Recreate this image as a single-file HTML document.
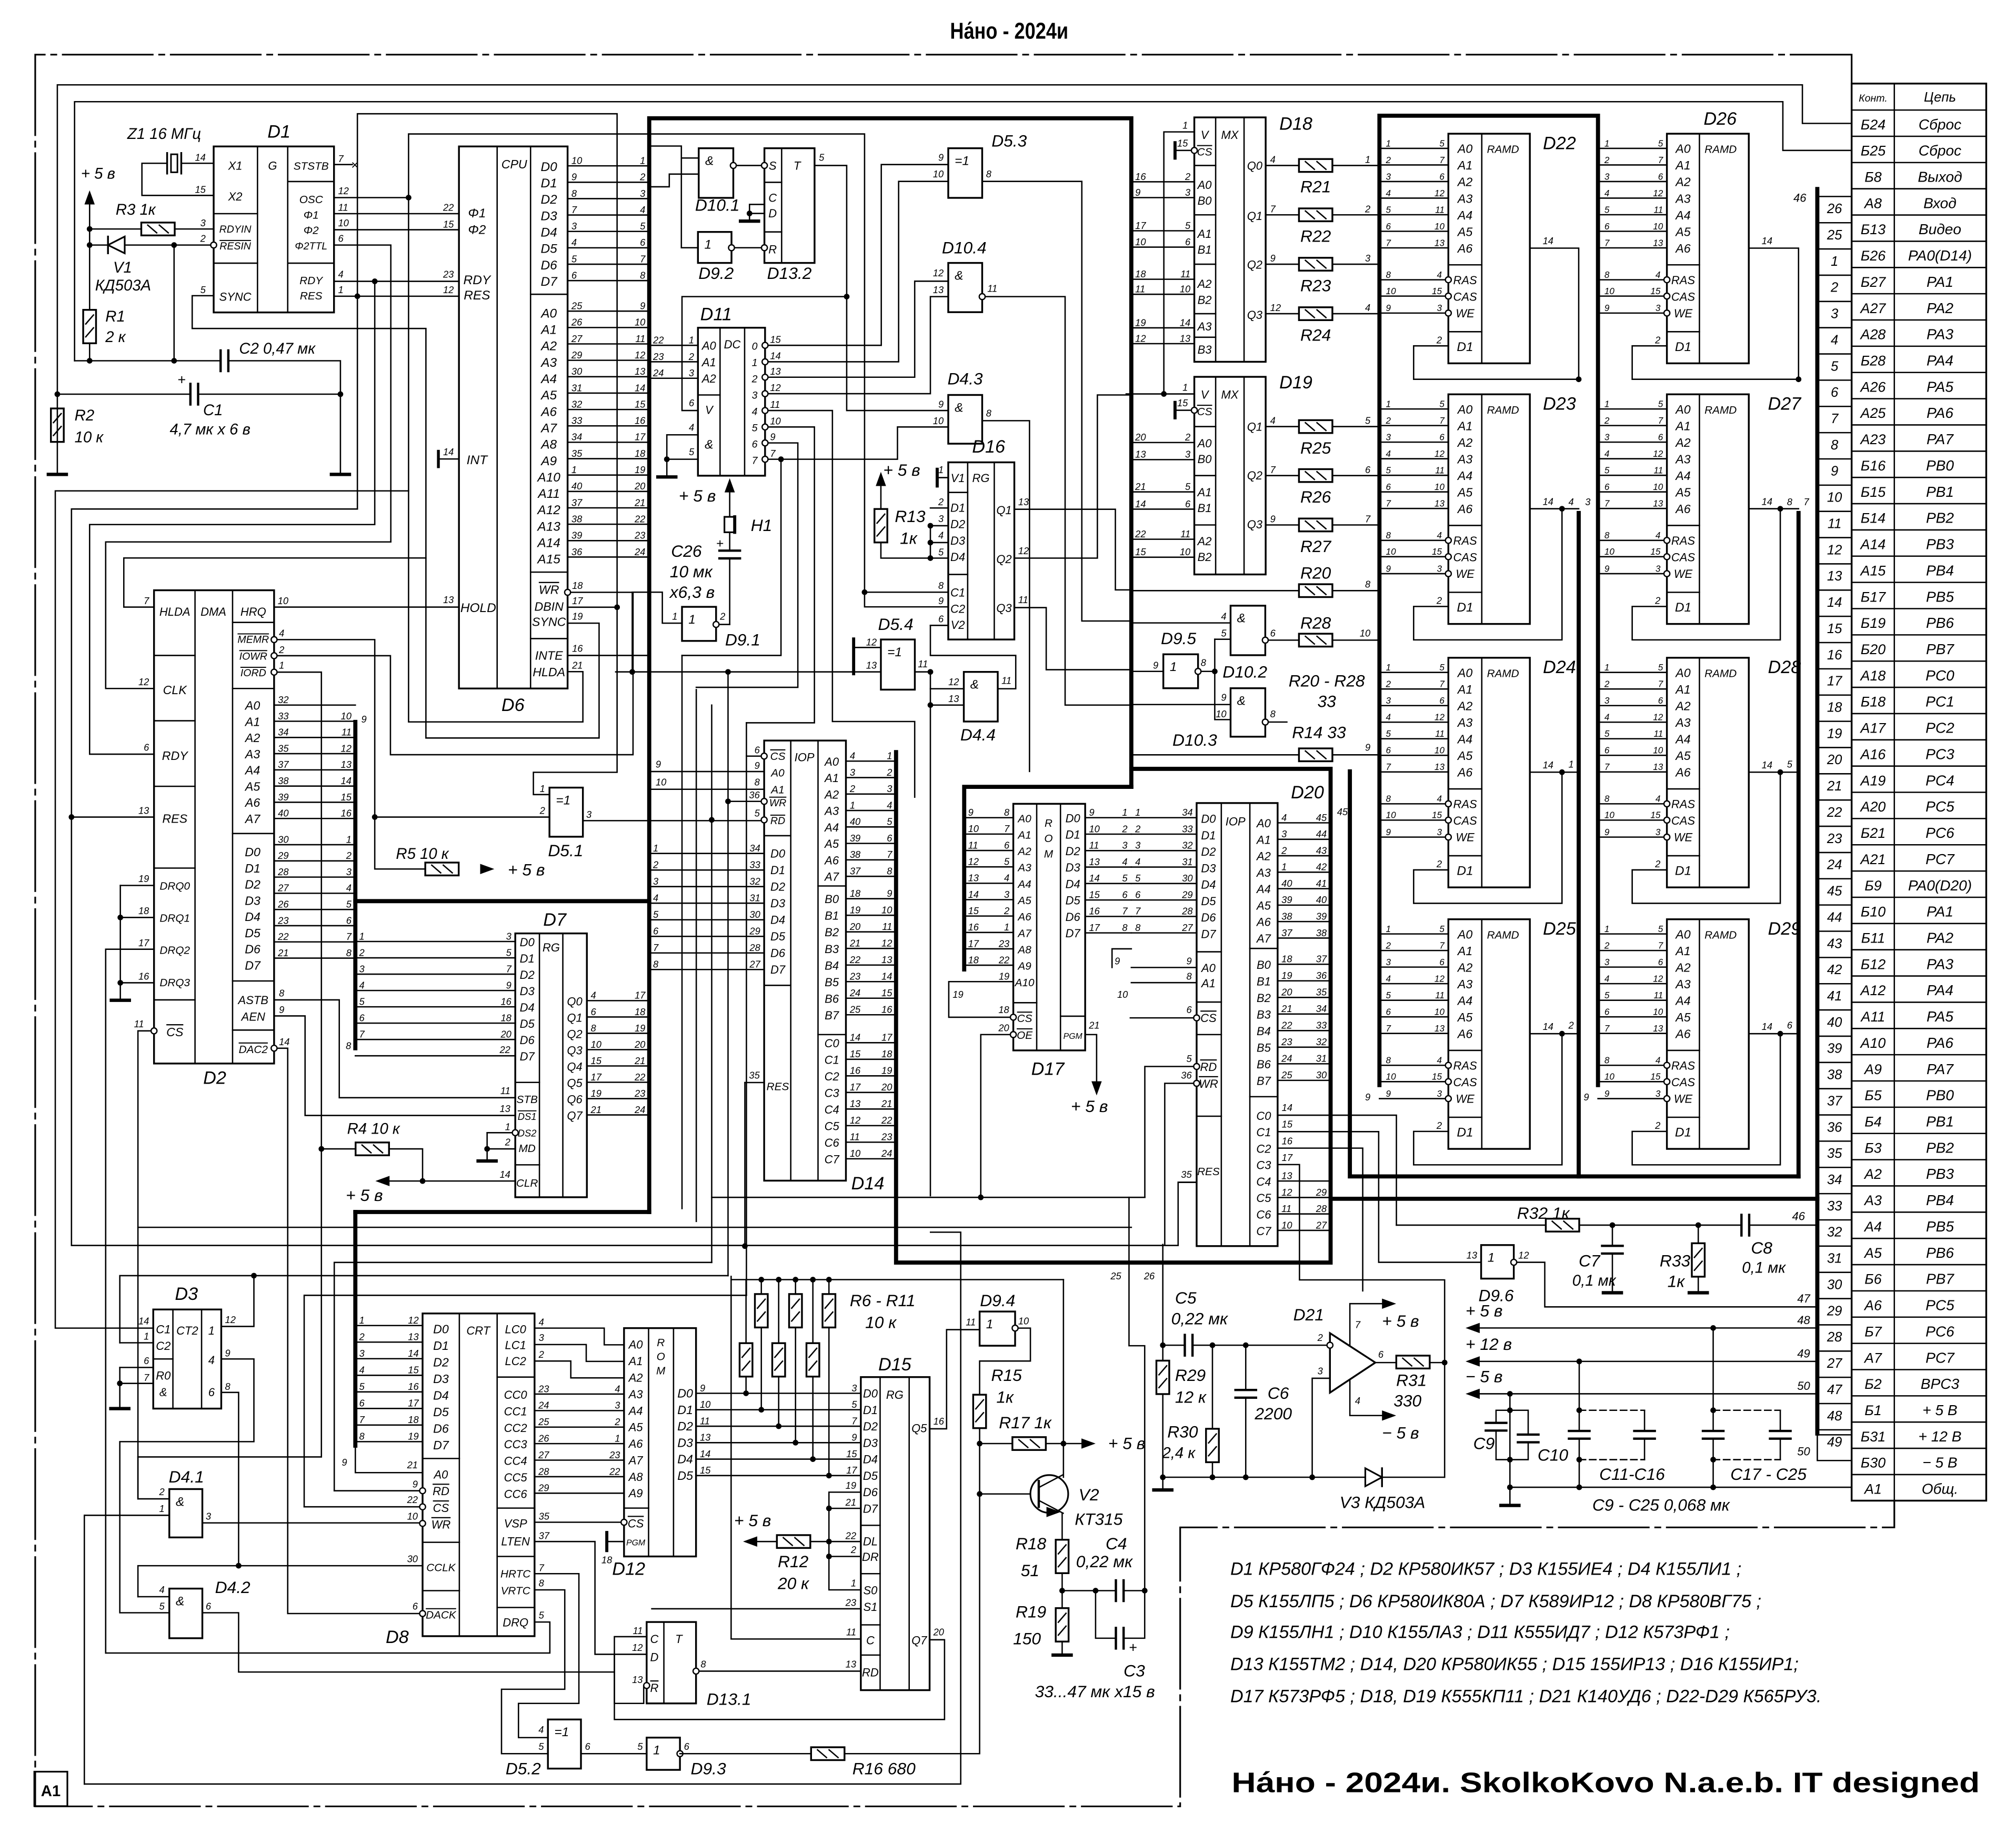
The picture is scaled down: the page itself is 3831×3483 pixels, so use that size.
<!DOCTYPE html>
<html><head><meta charset="utf-8">
<style>
html,body{margin:0;padding:0;background:#fff;width:3831px;height:3483px;overflow:hidden}
svg{display:block}
text{font-family:"Liberation Sans","DejaVu Sans",sans-serif;font-style:italic;fill:#000;stroke:none}
text.b{font-weight:bold;font-style:normal}
text.ov{text-decoration:overline}
</style></head>
<body>
<svg id="s" width="3831" height="3483" viewBox="0 0 1568.15 1425.7" preserveAspectRatio="none" xmlns="http://www.w3.org/2000/svg">
<rect x="0" y="0" width="1568.15" height="1425.7" fill="#fff"/>
<g id="g" stroke="#000" stroke-width="1.05" stroke-linecap="square"></g>
<text x="785" y="30" font-size="18" text-anchor="middle" class="b" textLength="92" lengthAdjust="spacingAndGlyphs">На́но - 2024и</text>
<text x="957" y="1225" font-size="14">D1  КР580ГФ24 ; D2  КР580ИК57 ; D3  К155ИЕ4 ; D4  К155ЛИ1 ;</text>
<text x="957" y="1250" font-size="14">D5  К155ЛП5 ; D6  КР580ИК80А ; D7  К589ИР12 ; D8  КР580ВГ75 ;</text>
<text x="957" y="1274" font-size="14">D9  К155ЛН1 ; D10  К155ЛА3 ; D11  К555ИД7 ; D12  К573РФ1 ;</text>
<text x="957" y="1299" font-size="14">D13  К155ТМ2 ; D14, D20  КР580ИК55 ; D15  155ИР13 ; D16  К155ИР1;</text>
<text x="957" y="1324" font-size="14">D17  К573РФ5 ; D18, D19  К555КП11 ; D21  К140УД6 ; D22-D29  К565РУ3.</text>
<text x="958" y="1394" font-size="22" class="b" textLength="582" lengthAdjust="spacingAndGlyphs">На́но - 2024и. SkolkoKovo N.a.e.b. IT designed</text>
<text x="39.5" y="1397" font-size="12" text-anchor="middle" class="b">A1</text>
</svg>
<script>
let o='';
const ln=(a,b,c,d,w)=>{o+=`<line x1="${a}" y1="${b}" x2="${c}" y2="${d}"${w?` stroke-width="${w}"`:''}/>`;};
const pl=(p,w)=>{o+=`<polyline points="${p}" fill="none"${w?` stroke-width="${w}"`:''}/>`;};
const rc=(x,y,x2,y2)=>{o+=`<rect x="${x}" y="${y}" width="${x2-x}" height="${y2-y}" fill="#fff" stroke-width="1.4"/>`;};
const tx=(x,y,t,s,a,c)=>{o+=`<text x="${x}" y="${y}" font-size="${s||8}"${a?` text-anchor="${a}"`:''}${c?` class="${c}"`:''}>${t}</text>`;};
const dt=(x,y)=>{o+=`<circle cx="${x}" cy="${y}" r="2.2" fill="#000" stroke="none"/>`;};
const oc=(x,y)=>{o+=`<circle cx="${x}" cy="${y}" r="2.3" fill="#fff" stroke-width="1"/>`;};
const rh=(cx,cy)=>{o+=`<rect x="${cx-13}" y="${cy-5}" width="26" height="10" fill="#fff" stroke-width="1.4"/>`;ln(cx-8,cy-3,cx-1,cy+3);ln(cx+1,cy-3,cx+8,cy+3);};
const rv=(cx,cy)=>{o+=`<rect x="${cx-5}" y="${cy-13}" width="10" height="26" fill="#fff" stroke-width="1.4"/>`;ln(cx-3,cy-2,cx+3,cy-9);ln(cx-3,cy+8,cx+3,cy+1);};
const gnd=(x,y)=>ln(x-7,y,x+7,y,2.6);
const ar=(x,y,d)=>{let p;if(d=='l')p=`${x},${y} ${x+11},${y-4} ${x+11},${y+4}`;if(d=='r')p=`${x},${y} ${x-11},${y-4} ${x-11},${y+4}`;if(d=='u')p=`${x},${y} ${x-4},${y+11} ${x+4},${y+11}`;if(d=='d')p=`${x},${y} ${x-4},${y-11} ${x+4},${y-11}`;o+=`<polygon points="${p}" fill="#000" stroke="none"/>`;};
const caph=(x,y)=>{o+=`<rect x="${x-3}" y="${y-1}" width="6" height="2" fill="#fff" stroke="none"/>`;ln(x-3,y-8,x-3,y+8,1.8);ln(x+3,y-8,x+3,y+8,1.8);};
const capv=(x,y)=>{o+=`<rect x="${x-1}" y="${y-3}" width="2" height="6" fill="#fff" stroke="none"/>`;ln(x-8,y-3,x+8,y-3,1.8);ln(x-8,y+3,x+8,y+3,1.8);};
function chip(x1,y1,x2,y2,dv,hl){rc(x1,y1,x2,y2);(dv||[]).forEach(d=>ln(d,y1,d,y2));(hl||[]).forEach(h=>ln(h[1],h[0],h[2],h[0]));}
function labs(x,y0,st,arr,s,a){arr.forEach((t,i)=>{if(t!=='')tx(x,y0+st*i,t,s||9,a||'middle');});}
function pins(x1,x2,y0,st,L,R,s){L.forEach((t,i)=>{const y=y0+st*i;ln(x1,y,x2,y);if(t!=='')tx(x1+3,y-1.5,t,s||7.5);if(R&&R[i]!=='')tx(x2-3,y-1.5,R[i],s||7.5,'end');});}
function gate(x1,y1,x2,y2,sym){rc(x1,y1,x2,y2);tx(x1+5,y1+13,sym,10);}
const seq=(a,b)=>{const r=[];for(let i=a;i<=b;i++)r.push(String(i));return r;};

/* ---------- frame ---------- */
o+='<g stroke-dasharray="70 5 4 5" stroke-width="1.3">';
pl('1440.3,65 1440.3,42.5 27.4,42.5 27.4,1405 918,1405 918,1188 1473.5,1188 1473.5,1167');
o+='</g>';
o+='<rect x="26.7" y="1378" width="25.7" height="26.8" fill="none" stroke-width="1.3"/>';

/* ---------- long top wires ---------- */
pl('44.6,306.6 44.6,66 1402,66 1402,96 1440.3,96');
pl('58,280.6 58,79.1 1386.8,79.1 1386.8,117 1440.3,117');
pl('278,395.9 278,88.5 480,88.5 480,600.7 414.9,600.7 414.9,618 427.4,618');
pl('317.8,434 317.8,104.2 672.5,104.2 672.5,472 737.6,472');
pl('505,113.6 530,113.6 530,192.7 542.9,192.7');
pl('530,122.9 543.5,122.9');
pl('505,145.3 520.6,145.3 520.6,135.4 543.5,135.4');
pl('633.6,128.7 658.6,128.7 658.6,319.3 737.6,319.3');dt(658.6,230.7);
pl('658.6,230.7 530.5,230.7 530.5,319.3 542.9,319.3');

/* ---------- top-left: D1, clock, reset ---------- */
ln(69.7,159,69.7,280.6);ar(69.7,148,'u');tx(63,139,'+ 5 в',12);
ln(69.7,178.1,166.2,178.1);rh(122.9,178.1);tx(90,167,'R3  1к',12);
ln(69.7,190.6,163.9,190.6);o+='<polygon points="84,190.6 97,184 97,197" fill="#fff" stroke-width="1.3"/>';ln(84,184,84,197,1.4);
tx(88,212,'V1',12);tx(74,226,'КД503А',12);
ln(135.4,190.6,135.4,280.6);dt(135.4,190.6);dt(69.7,178.1);dt(69.7,190.6);
rv(69.7,254);tx(82,250,'R1',12);tx(82,266,'2 к',12);
pl('58,280.6 264.8,280.6 264.8,369');caph(174.6,280.6);dt(69.7,280.6);dt(135.4,280.6);
tx(186,275,'C2  0,47 мк',12);
ln(44.6,306.6,264.8,306.6);caph(151.1,306.6);tx(138,299,'+',11);dt(44.6,306.6);dt(264.8,306.6);
tx(158,323,'C1',12);tx(132,338,'4,7 мк х 6 в',12);
rv(44.6,330.7);ln(44.6,306.6,44.6,369);gnd(44.6,369);gnd(264.8,369);
tx(58,327,'R2',12);tx(58,344,'10 к',12);
pl('166.2,127 110.4,127 110.4,152 166.2,152');
o+='<rect x="130" y="119" width="11" height="17" fill="#fff" stroke="none"/>';
ln(130,119,130,135,1.4);ln(141,119,141,135,1.4);o+='<rect x="133" y="120" width="5" height="14" fill="#fff" stroke-width="1.2"/>';
tx(99,108,'Z1 16 МГц',12);
/* D1 */
pl('166.2,230 149.5,230 149.5,255.5 331.3,255.5 331.3,434 96.3,434 96.3,472.2 119.8,472.2');
ln(259.8,128,274,128);tx(273,131.5,'×',10);
ln(259.8,153.7,317.8,153.7);dt(317.8,153.7);
ln(259.8,166.2,357,166.2);ln(259.8,178.7,357,178.7);
pl('259.8,190.6 304,190.6 304,421.5 82.2,421.5 82.2,535.5 119.8,535.5');
ln(259.8,218.8,357,218.8);pl('291.5,218.8 291.5,408 69.7,408 69.7,586.6 119.8,586.6');dt(291.5,218.8);
ln(259.8,230.4,357,230.4);dt(278,230.4);
pl('278,395.9 55.6,395.9 55.6,968.7 916.4,968.7 916.4,919.6 930.8,919.6');dt(55.6,635.5);ln(55.6,635.5,119.8,635.5);
pl('317.8,381.8 43,381.8 43,1033 119.2,1033');
chip(166.2,113.9,259.8,243,[200.3,223.8],[[166.2,166.2,200.3],[204.7,166.2,200.3],[141.2,223.8,259.8],[204.7,223.8,259.8]]);
tx(217,107,'D1',14,'middle');
tx(183,132,'X1',9,'middle');tx(183,156,'X2',9,'middle');tx(212,132,'G',9,'middle');tx(242,132,'STSTB',8.5,'middle');
tx(183,181,'RDYIN',8,'middle');tx(183,194,'RESIN',8,'middle','ov');tx(183,234,'SYNC',9,'middle');
tx(242,158,'OSC',8.5,'middle');tx(242,170,'Φ1',8.5,'middle');tx(242,182,'Φ2',8.5,'middle');tx(242,194,'Φ2TTL',8,'middle');
tx(242,221,'RDY',8.5,'middle');tx(242,233,'RES',8.5,'middle');
oc(166.2,190.6);
tx(160,125,'14',7.5,'end');tx(160,150,'15',7.5,'end');tx(160,176,'3',7.5,'end');tx(160,188,'2',7.5,'end');tx(160,228,'5',7.5,'end');
tx(263,126,'7',7.5);tx(263,151,'12',7.5);tx(263,164,'11',7.5);tx(263,176,'10',7.5);tx(263,188,'6',7.5);tx(263,216,'4',7.5);tx(263,228,'1',7.5);

/* ---------- D6 ---------- */
tx(353,164,'22',7.5,'end');tx(353,177,'15',7.5,'end');tx(353,216,'23',7.5,'end');tx(353,228,'12',7.5,'end');
ln(341,357,357,357);ln(341,351,341,363,2.2);tx(353,354,'14',7.5,'end');
ln(213.2,472.2,357,472.2);tx(353,469,'13',7.5,'end');
pl('441.5,460.7 492.4,460.7 492.4,587 303.7,587 303.7,510 213.2,510');
ln(441.5,472.3,480,472.3);dt(480,472.3);
pl('441.5,484.7 466,484.7 466,574 331.3,574 331.3,434');
ln(441.5,509.8,505,509.8);
pl('441.5,522.4 453.4,522.4 453.4,561.5 317.8,561.5 317.8,434');
chip(357,113.9,441.5,535.5,[386.7,412.7],[[228.9,412.7,441.5],[445,412.7,441.5],[496.7,412.7,441.5]]);
oc(441.5,460.7);
pins(441.5,505,129,12.75,['10','9','8','7','3','4','5','6'],seq(1,8));
pins(441.5,505,242,12.75,['25','26','27','29','30','31','32','33','34','35','1','40','37','38','39','36'],seq(9,24));
labs(427,133,12.75,['D0','D1','D2','D3','D4','D5','D6','D7'],10);
labs(427,247,12.75,['A0','A1','A2','A3','A4','A5','A6','A7','A8','A9','A10','A11','A12','A13','A14','A15'],10);
tx(427,462,'WR',9.5,'middle','ov');tx(427,475,'DBIN',9.5,'middle');tx(427,487,'SYNC',9.5,'middle');
tx(427,513,'INTE',9.5,'middle');tx(427,526,'HLDA',9.5,'middle');
tx(445,458,'18',7.5);tx(445,470,'17',7.5);tx(445,482,'19',7.5);tx(445,507,'16',7.5);tx(445,520,'21',7.5);
tx(400,131,'CPU',9.5,'middle');tx(371,169,'Φ1',10,'middle');tx(371,182,'Φ2',10,'middle');tx(371,221,'RDY',10,'middle');tx(371,233,'RES',10,'middle');
tx(371,361,'INT',10,'middle');tx(372,476,'HOLD',10,'middle');
tx(399,553,'D6',14,'middle');

/* ---------- D2 ---------- */
pl('93.6,688.7 93.6,778');gnd(93.6,778);dt(93.6,713.6);dt(93.6,764.4);
ln(93.6,688.7,119.8,688.7);ln(93.6,713.6,119.8,713.6);ln(93.6,764.4,119.8,764.4);
pl('82.2,1285.7 82.2,738.3 119.8,738.3');
pl('107.3,1165.8 107.3,801.8 117.5,801.8');
pl('213.2,497.5 291.5,497.5 291.5,675.9 330.8,675.9');ln(291.5,635.5,427.4,635.5);dt(291.5,635.5);
rh(343.8,675.9);ar(384.5,675.9,'r');tx(308,668,'R5  10 к',12);tx(395,681,'+ 5 в',13);
pl('213.2,522.8 250,522.8 250,1133.2 107.3,1133.2');
pl('213.2,777.7 263.9,777.7 263.9,853.8 400.8,853.8');
pl('213.2,790.2 237.3,790.2 237.3,867.6 400.8,867.6');
pl('213.2,815.3 223.8,815.3 223.8,1255 326.4,1255');
chip(119.8,459.1,213.2,827.2,[151.7,180.9],[[509.8,119.8,151.7],[560.6,119.8,151.7],[611.6,119.8,151.7],[675.2,119.8,151.7],[777.7,119.8,151.7],[484.1,180.9,213.2],[535.5,180.9,213.2],[648.3,180.9,213.2],[763,180.9,213.2],[801.2,180.9,213.2]]);
oc(119.8,801.8);oc(213.2,497.5);oc(213.2,510);oc(213.2,522.8);oc(213.2,815.3);
tx(136,479,'HLDA',9,'middle');tx(166,479,'DMA',9,'middle');tx(197,479,'HRQ',9,'middle');
tx(136,540,'CLK',9.5,'middle');tx(136,591,'RDY',9.5,'middle');tx(136,640,'RES',9.5,'middle');
labs(136,692,25,['DRQ0','DRQ1','DRQ2','DRQ3'],8.5);tx(136,806,'CS',9.5,'middle','ov');
tx(197,500,'MEMR',8,'middle','ov');tx(197,513,'IOWR',8,'middle','ov');tx(197,526,'IORD',8,'middle','ov');
labs(196.5,552,12.6,['A0','A1','A2','A3','A4','A5','A6','A7'],9.5);
labs(196.5,666,12.6,['D0','D1','D2','D3','D4','D5','D6','D7'],9.5);
tx(197,781,'ASTB',9,'middle');tx(197,794,'AEN',9,'middle');tx(197,819,'DAC2',8.5,'middle','ov');
tx(116,470,'7',7.5,'end');tx(116,533,'12',7.5,'end');tx(116,584,'6',7.5,'end');tx(116,633,'13',7.5,'end');
tx(116,686,'19',7.5,'end');tx(116,711,'18',7.5,'end');tx(116,736,'17',7.5,'end');tx(116,762,'16',7.5,'end');tx(112,799,'11',7.5,'end');
tx(216,470,'10',7.5);tx(217,495,'4',7.5);tx(217,508,'2',7.5);tx(217,520,'1',7.5);tx(217,775,'8',7.5);tx(217,788,'9',7.5);tx(217,813,'14',7.5);
pins(213.2,276.4,548.4,12.6,['32','33','34','35','37','38','39','40'],['','10','11','12','13','14','15','16']);
tx(281,562,'9',7.5);
pins(213.2,276.4,657,12.6,['30','29','28','27','26','23','22','21'],seq(1,8));
tx(167,843,'D2',14,'middle');

/* ---------- D5.1 ---------- */
ln(453.4,638.3,594.4,638.3);
gate(427.4,612.6,453.4,650.8,'=1');tx(424,616,'1',7.5,'end');tx(424,633,'2',7.5,'end');tx(456,636,'3',7.5);
tx(440,666,'D5.1',13,'middle');

/* ---------- D7 ---------- */
pins(276.4,400.8,732.3,12.7,['1','2','3','4','5','6','7'],['3','5','7','9','16','18','20']);
pl('276.4,821.2 400.8,821.2');tx(269,816,'8',7.5);tx(397,819,'22',7.5,'end');
pins(456.5,505,778.3,12.7,['4','6','8','10','15','17','19','21'],seq(17,24));
pl('378.9,881 378.9,903');gnd(378.9,903);ln(378.9,881,398.5,881);ln(378.9,893.6,400.8,893.6);dt(378.9,893.6);
pl('250,893.6 328.7,893.6 328.7,918.6 400.8,918.6');rh(289.6,893.6);dt(250,893.6);
ln(303,918.6,328.7,918.6);ar(292,918.6,'l');dt(328.7,918.6);
tx(270,882,'R4  10 к',12);tx(269,934,'+ 5 в',13);
chip(400.8,726,456.5,931.2,[419.6,437.8],[[841.9,400.8,419.6],[906,400.8,419.6]]);
oc(400.8,881);
labs(410,736,12.7,['D0','D1','D2','D3','D4','D5','D6','D7'],9);
tx(428.7,740,'RG',9,'middle');labs(447,782,12.7,['Q0','Q1','Q2','Q3','Q4','Q5','Q6','Q7'],9);
tx(410,858,'STB',8.5,'middle');tx(410,871,'DS1',7.5,'middle','ov');tx(410,884,'DS2',7.5,'middle');tx(410,896,'MD',8.5,'middle');tx(410,923,'CLR',8.5,'middle');
tx(397,851,'11',7.5,'end');tx(397,865,'13',7.5,'end');tx(397,879,'1',7.5,'end');tx(397,891,'2',7.5,'end');tx(397,916,'14',7.5,'end');
tx(431.5,720,'D7',14,'middle');

/* ---------- left bottom verticals / horizontals ---------- */
pl('107.3,954.6 880,954.6');
pl('260,1159.5 260,981.9 553.6,981.9');
pl('93.2,1044.4 93.2,992.2 566.3,992.2');
pl('236.6,1172 236.6,1007.5 580.6,1007.5');
pl('197.5,992.2 197.5,1031.7 172.1,1031.7');dt(197.5,992.2);
/* middle bus verticals */
pl('491.8,460.6 491.8,522.6');dt(491.8,522.6);
pl('530.5,509.8 530.5,940');pl('541.6,536.4 541.6,950');pl('553.6,548.4 553.6,981.9');pl('566.3,522.6 566.3,992.2');pl('580.6,562.2 580.6,1007.5');
pl('579.4,842 579.4,969.2');dt(579.4,969.2);dt(553.6,637.7);dt(566.3,623.3);dt(566.3,522.6);
ln(566.3,623.3,594.4,623.3);ln(580.6,588.1,594.4,588.1);
ln(505,600.1,594.4,600.1);ln(505,613.9,594.4,613.9);
tx(510,597,'9',7.5);tx(510,611,'10',7.5);

/* ---------- D3 / D4 ---------- */
pl('93.2,1063.6 93.2,1095.6');gnd(93.2,1095.6);ln(93.2,1063.6,119.2,1063.6);ln(93.2,1076,119.2,1076);dt(93.2,1076);
ln(93.2,1044.4,119.2,1044.4);
pl('172.1,1057 197.5,1057 197.5,1121.3 93.2,1121.3 93.2,1254.4 131.7,1254.4');
pl('172.1,1083 185.6,1083 185.6,1217.8');dt(185.6,1217.8);
pl('107.3,1241.9 107.3,1217.8 328.7,1217.8');ln(107.3,1241.9,131.7,1241.9);
pl('107.3,1133.2 107.3,1165.8 131.7,1165.8');
pl('65.6,1387.6 65.6,1178.6 131.7,1178.6');
pl('65.6,1387.6 747.3,1387.6 747.3,958.4 723.8,958.4');
ln(157.4,1184.5,326.4,1184.5);
pl('157.4,1254.4 185.6,1254.4 185.6,1300.5 477.9,1300.5 477.9,1273 503,1273');
chip(119.2,1018.5,172.1,1095.6,[134.5,156.8],[[1057,119.2,134.5]]);
tx(127,1037,'C1',9,'middle');tx(127,1050,'C2',9,'middle');tx(145.7,1038,'CT2',9,'middle');tx(127,1073,'R0',9,'middle');tx(127,1086,'&',9,'middle');
tx(164.5,1038,'1',9,'middle');tx(164.5,1061,'4',9,'middle');tx(164.5,1086,'6',9,'middle');
tx(116,1030,'14',7.5,'end');tx(116,1042,'1',7.5,'end');tx(116,1061,'6',7.5,'end');tx(116,1074,'7',7.5,'end');
tx(175,1029,'12',7.5);tx(175,1055,'9',7.5);tx(175,1081,'8',7.5);
tx(145,1011,'D3',14,'middle');
gate(131.7,1158.2,157.4,1195.8,'&');tx(145,1153,'D4.1',13,'middle');tx(128,1163,'2',7.5,'end');tx(128,1176,'1',7.5,'end');tx(160,1182,'3',7.5);
gate(131.7,1235.6,157.4,1274.2,'&');tx(181,1239,'D4.2',13,'middle');tx(128,1239,'4',7.5,'end');tx(128,1252,'5',7.5,'end');tx(160,1252,'6',7.5);

/* ---------- D8 ---------- */
o+=`<line x1="276.4" y1="942.7" x2="276.4" y2="1124.4" stroke-width="3.2"/>`;
pins(276.4,328.7,1031,12.9,seq(1,8),seq(12,19));
pl('276.4,1124.4 276.4,1145.4 328.7,1145.4');tx(270,1140,'9',7.5,'end');
ln(260,1159.5,326.4,1159.5);ln(236.6,1172,326.4,1172);
pl('415.8,1033 470,1033 470,1046 485.4,1046');pl('415.8,1045.8 456,1045.8 456,1058.9 485.4,1058.9');pl('415.8,1058.6 444,1058.6 444,1071.7 485.4,1071.7');
pins(415.8,485.4,1084.3,12.85,['23','24','25','26','27','28','29'],['4','3','2','1','23','22','']);
ln(415.8,1184,483,1184);
pl('415.8,1199 462.8,1199 462.8,1286.7 503,1286.7');
ln(472,1192,472,1206,2.4);ln(472,1199,485.4,1199);tx(472,1216,'18',7.5,'middle');
pl('415.8,1224 450.3,1224 450.3,1324.9 403.3,1324.9 403.3,1351.5 426.2,1351.5');
pl('415.8,1236.6 439.3,1236.6 439.3,1313.9 390.1,1313.9 390.1,1364 426.2,1364');
pl('415.8,1261.6 427.7,1261.6 427.7,1285.7 82.2,1285.7');
chip(328.7,1021.6,415.8,1272.6,[357.3,386.7],[[1134.4,328.7,357.3],[1199.6,328.7,357.3],[1237.2,328.7,357.3],[1071.1,386.7,415.8],[1173,386.7,415.8],[1210.6,386.7,415.8],[1250.3,386.7,415.8]]);
oc(328.7,1159.5);oc(328.7,1172);oc(328.7,1184.9);oc(328.7,1255);
labs(343,1037,12.9,['D0','D1','D2','D3','D4','D5','D6','D7'],9.5);
tx(372,1038,'CRT',9,'middle');labs(401,1037,12.4,['LC0','LC1','LC2'],9);
labs(401,1088,12.85,['CC0','CC1','CC2','CC3','CC4','CC5','CC6'],9);
tx(343,1150,'A0',9,'middle');tx(343,1163,'RD',9,'middle','ov');tx(343,1176,'CS',9,'middle','ov');tx(343,1189,'WR',9,'middle','ov');
tx(343,1222,'CCLK',8.5,'middle');tx(343,1259,'DACK',8.5,'middle','ov');
tx(401,1188,'VSP',9,'middle');tx(401,1202,'LTEN',9,'middle');tx(401,1227,'HRTC',8.5,'middle');tx(401,1240,'VRTC',8.5,'middle');tx(401,1265,'DRQ',9,'middle');
tx(325,1142,'21',7.5,'end');tx(325,1157,'9',7.5,'end');tx(325,1169,'22',7.5,'end');tx(325,1182,'10',7.5,'end');tx(325,1215,'30',7.5,'end');tx(325,1252,'6',7.5,'end');
tx(419,1031,'4',7.5);tx(419,1043,'3',7.5);tx(419,1056,'2',7.5);tx(419,1182,'35',7.5);tx(419,1197,'37',7.5);tx(419,1222,'7',7.5);tx(419,1234,'8',7.5);tx(419,1259,'5',7.5);
tx(309,1278,'D8',14,'middle');

/* ---------- D12 ---------- */
chip(485.4,1033,541.4,1210.6,[504.5,523.9],[[1173,485.4,504.5]]);
oc(485.4,1184);
labs(494.5,1049,12.85,['A0','A1','A2','A3','A4','A5','A6','A7','A8','A9'],9);
tx(494.5,1188,'CS',9,'middle','ov');tx(494.5,1202,'PGM',6.5,'middle');
tx(514,1047,'R',8.5,'middle');tx(514,1058,'O',8.5,'middle');tx(514,1069,'M',8.5,'middle');
labs(533,1087,12.8,['D0','D1','D2','D3','D4','D5'],9.5);
tx(489,1225,'D12',14,'middle');
pins(541.4,669.6,1083.7,12.8,['9','10','11','13','14','15'],['3','5','7','9','15','17']);

/* ---------- R6-R11 ---------- */
ln(568.7,995.3,827.2,995.3);
[[580.3,1083.7,1057.7],[592.2,1096.5,1019.5],[605.7,1109.3,1057.7],[618.8,1122.1,1019.5],[632.3,1134.9,1057.7],[644.8,1147.7,1019.5]].forEach(r=>{ln(r[0],995.3,r[0],r[1]);rv(r[0],r[2]);dt(r[0],r[1]);if(r[0]>585)dt(r[0],995.3);});
tx(661,1016,'R6 - R11',13);tx(673,1033,'10 к',13);

/* ---------- D15 ---------- */
pl('669.6,1160.6 644.8,1160.6 644.8,1236.6 669.6,1236.6');ln(644.8,1173.2,669.6,1173.2);ln(644.8,1199,669.6,1199);ln(644.8,1210.6,669.6,1210.6);
dt(644.8,1173.2);dt(644.8,1199);dt(644.8,1210.6);
ln(589,1199,644.8,1199);rh(617.3,1199);ar(578,1199,'l');tx(571,1187,'+ 5 в',13);tx(605,1219,'R12',13);tx(605,1236,'20 к',13);
ln(507,1251.3,669.6,1251.3);
pl('568.7,992.8 568.7,1274.8 669.6,1274.8');
pl('541.4,1299.8 669.6,1299.8');
pl('723.1,1111.3 736.3,1111.3 736.3,1034.2 762,1034.2');
pl('723.1,1275.4 734.7,1275.4 734.7,1337.4 477.9,1337.4 477.9,1300.5');
chip(669.6,1071.1,723.1,1314.6,[684.6,707.2],[[1186.4,669.6,684.6],[1224,669.6,684.6],[1263.8,669.6,684.6],[1287.3,669.6,684.6]]);
labs(677,1087,12.8,['D0','D1','D2','D3','D4','D5','D6','D7'],9);
tx(696,1088,'RG',9,'middle');tx(677,1202,'DL',9,'middle');tx(677,1214,'DR',9,'middle');tx(677,1240,'S0',9,'middle');tx(677,1253,'S1',9,'middle');
tx(677,1279,'C',9,'middle');tx(677,1304,'RD',9,'middle');tx(715,1114,'Q5',9,'middle');tx(715,1279,'Q7',9,'middle');
tx(666,1158,'19',7.5,'end');tx(666,1171,'21',7.5,'end');tx(666,1197,'22',7.5,'end');tx(666,1208,'2',7.5,'end');tx(666,1234,'1',7.5,'end');tx(666,1249,'23',7.5,'end');tx(666,1272,'11',7.5,'end');tx(666,1297,'13',7.5,'end');
tx(726,1108,'16',7.5);tx(726,1272,'20',7.5);
tx(696,1066,'D15',14,'middle');

/* ---------- D13.1, D5.2, D9.3 ---------- */
chip(503,1261.6,541.4,1324.9,[516.4],[]);
tx(509,1278,'C',9,'middle');tx(509,1292,'D',9,'middle');tx(509,1316,'R',9,'middle','ov');tx(528,1278,'T',9,'middle');
oc(541.4,1299.8);oc(503,1311);
tx(500,1271,'11',7.5,'end');tx(500,1284,'12',7.5,'end');tx(500,1309,'13',7.5,'end');tx(545,1297,'8',7.5);
pl('477.9,1286.7 477.9,1324.9 500.7,1324.9 500.7,1311');
tx(567,1326,'D13.1',13,'middle');
gate(426.2,1337.4,451.9,1375.6,'=1');tx(423,1348,'4',7.5,'end');tx(423,1361,'5',7.5,'end');tx(455,1361,'6',7.5);tx(407,1380,'D5.2',13,'middle');
ln(451.9,1364,503,1364);
gate(503,1351.5,528.9,1376.6,'1');oc(528.9,1364);tx(500,1361,'5',7.5,'end');tx(532,1361,'6',7.5);tx(551,1380,'D9.3',13,'middle');
pl('528.9,1364 762,1364 762,1122.8');rh(643.9,1364);tx(663,1380,'R16  680',13);

/* ---------- D9.4, V2 ---------- */
pl('789.6,1033 801.5,1033 801.5,1058.6 762,1058.6 762,1122.8');
gate(762,1020.1,789.6,1046.7,'1');oc(789.6,1033);tx(759,1031,'11',7.5,'end');tx(792,1030,'10',7.5);tx(776,1016,'D9.4',13,'middle');
rv(762,1097.8);tx(771,1074,'R15',13);tx(775,1091,'1к',13);
ln(762,1122.8,842,1122.8);rh(800.5,1122.8);ar(852.2,1122.8,'r');dt(762,1122.8);dt(827.2,1122.8);tx(777,1111,'R17  1к',13);tx(862,1127,'+ 5 в',13);
ln(827.2,995.3,827.2,1149);
ln(762,1162,808,1162);dt(762,1162);
o+='<circle cx="816.2" cy="1162" r="14.7" fill="#fff" stroke-width="1.3"/>';ln(808,1152,808,1172,1.8);ln(808,1157,827,1147);ln(808,1167,827,1177);ar(825,1176,'r');
tx(839,1167,'V2',13);tx(836,1186,'КТ315',13);
ln(826.2,1177,826.2,1287.3);rv(826.2,1210.6);rv(826.2,1263.8);gnd(826.2,1287.3);dt(826.2,1237.2);
pl('826.2,1237.2 890.4,1237.2');caph(871,1237.2);dt(852.2,1237.2);dt(890.4,1237.2);
pl('852.2,1237.2 852.2,1274.2 890.4,1274.2 890.4,1046.7 878.2,1046.7 878.2,982');caph(871,1274.2);tx(878,1285,'+',11);
tx(790,1205,'R18',13);tx(794,1226,'51',13);tx(860,1205,'C4',13);tx(837,1219,'0,22 мк',13);tx(790,1258,'R19',13);tx(788,1279,'150',13);
tx(874,1304,'C3',13);tx(805,1320,'33...47 мк х15 в',13);

/* ---------- middle top: D10.1, D13.2, D9.2, D5.3, D10.4, D11 ---------- */
ln(570.4,128.7,594.6,128.7);ln(569,192.7,594.6,192.7);
pl('594.6,159 583,159 583,172');pl('583,166 594.6,166');dt(583,166);gnd(583,172);
gate(543.5,115.3,570.4,153.9,'&');oc(570.4,128.7);tx(558,164,'D10.1',13,'middle');
chip(594.6,115.3,633.6,204.5,[608],[[141.8,594.6,608],[180.4,594.6,608]]);oc(594.6,128.7);oc(594.6,192.7);
tx(601,132,'S',9,'middle');tx(601,157,'C',9,'middle');tx(601,169,'D',9,'middle');tx(601,197,'R',9,'middle');tx(620,132,'T',9,'middle');tx(637,125,'5',7.5);
tx(614,217,'D13.2',13,'middle');
gate(542.9,180.4,569,204.5,'1');oc(569,192.7);tx(557,217,'D9.2',13,'middle');
pl('595.1,268.6 685.5,268.6 685.5,128 737.6,128');
pl('595.1,281.4 699,281.4 699,141.1 737.6,141.1');
pl('595.1,293.4 711.5,293.4 711.5,218.7 737.6,218.7');
pl('595.1,306.2 723.7,306.2 723.7,230.7 737.6,230.7');
pl('595.1,319.3 647.5,319.3 647.5,561.2 711.5,561.2 711.5,620');
pl('595.1,332.1 633.5,332.1 633.5,562.2 580.6,562.2');
pl('595.1,344.5 620.6,344.5 620.6,534.6 541.6,534.6');
pl('595.1,357.2 607.5,357.2 607.5,509.8 530.5,509.8');dt(607.5,357.2);
pl('607.5,357.2 698.1,357.2 698.1,332.1 737.6,332.1');
pl('764,141.1 841.5,141.1 841.5,483 880,483');
pl('764,230.7 828.5,230.7 828.5,548.4 880,548.4');
pins(505,542.9,268.6,12.8,['22','23','24'],['1','2','3']);
pl('518.7,338.2 542.9,338.2');pl('518.7,338.2 518.7,371');gnd(518.7,371);ln(518.7,357.2,542.9,357.2);dt(518.7,357.2);
chip(542.9,254.9,595.1,370,[560.1,579.2],[[307.2,542.9,560.1]]);
labs(551.5,272,12.8,['A0','A1','A2'],9);tx(551.5,322,'V',9,'middle');tx(551.5,349,'&',10,'middle');tx(569.6,271,'DC',9,'middle');
labs(587,272,12.7,['0','1','2','3','4','5','6','7'],8);
[268.6,281.4,293.4,306.2,319.3,332.1,344.5,357.2].forEach((y,i)=>{oc(595.1,y);tx(599,y-2,['15','14','13','12','11','10','9','7'][i],7.5);});
tx(540,316,'6',7.5,'end');tx(540,335,'4',7.5,'end');tx(540,354,'5',7.5,'end');
tx(557,249,'D11',14,'middle');
gate(737.6,115.3,764,153.9,'=1');tx(734,125,'9',7.5,'end');tx(734,138,'10',7.5,'end');tx(767,138,'8',7.5);tx(785,114,'D5.3',13,'middle');
gate(737.6,204.5,764,242.8,'&');oc(764,230.7);tx(734,215,'12',7.5,'end');tx(734,228,'13',7.5,'end');tx(768,227,'11',7.5);tx(750,197,'D10.4',13,'middle');
/* H1, C26, D9.1 */
ln(567.6,382,567.6,402);ar(567.6,372,'u');tx(528,390,'+ 5 в',13);
o+='<rect x="563.5" y="402" width="8" height="12" fill="#fff" stroke-width="1.3"/>';ln(571.5,402,571.5,414,2.4);tx(584,413,'H1',13);
ln(567.6,414,567.6,485.7);capv(567.6,431.3);tx(557,426,'+',10);
tx(522,433,'C26',13);tx(521,449,'10 мк',13);tx(521,465,'x6,3 в',13);
pl('491.8,460.6 515.2,460.6 515.2,484.7 530.5,484.7');
ln(557,485.7,567.6,485.7);
gate(530.5,472,557,498.5,'1');oc(557,485.7);tx(527,482,'1',7.5,'end');tx(560,482,'2',7.5);tx(564,502,'D9.1',13);
ln(478.9,522.6,685.2,522.6);

/* ---------- D4.3, D16, R13, D5.4, D4.4 ---------- */
pl('764,327.2 800.8,327.2 800.8,600');
gate(737.6,307.2,764,345.1,'&');tx(734,317,'9',7.5,'end');tx(734,330,'10',7.5,'end');tx(767,324,'8',7.5);tx(737,299,'D4.3',13);
ln(729,371.5,737.6,371.5);ln(729,365,729,378,2.4);
pl('685.2,378 685.2,434.1 737.6,434.1');ar(685.2,367,'u');rv(685.2,408.9);tx(687,370,'+ 5 в',13);tx(696,406,'R13',13);tx(700,423,'1к',13);
ln(723.7,395.1,737.6,395.1);ln(723.7,408.9,737.6,408.9);ln(723.7,422,737.6,422);ln(723.7,408.9,723.7,434.1);dt(723.7,408.9);dt(723.7,422);dt(723.7,434.1);
ln(672.5,460.6,737.6,460.6);dt(672.5,460.6);
pl('723.7,486.4 737.6,486.4');pl('723.7,486.4 723.7,509.8 790.1,509.8 790.1,535.7');
pl('789,396.1 867.6,396.1 867.6,458.8 880,458.8');
pl('789,434.1 853.6,434.1 853.6,307.2 880,307.2');
pl('789,472.6 813.8,472.6 813.8,520.9 880,520.9');
chip(737.6,359.6,789,497.4,[752.7,773.4],[[383,737.6,752.7],[446.8,737.6,752.7]]);
tx(745,375,'V1',9,'middle');tx(763,375,'RG',9,'middle');labs(745,398,12.8,['D1','D2','D3','D4'],9);
labs(745,464,12.6,['C1','C2','V2'],9);tx(781,400,'Q1',9,'middle');tx(781,438,'Q2',9,'middle');tx(781,476,'Q3',9,'middle');
tx(734,368,'1',7.5,'end');tx(734,393,'2',7.5,'end');tx(734,406,'3',7.5,'end');tx(734,419,'4',7.5,'end');tx(734,432,'5',7.5,'end');tx(734,458,'8',7.5,'end');tx(734,470,'9',7.5,'end');tx(734,484,'6',7.5,'end');
tx(792,393,'13',7.5);tx(792,431,'12',7.5);tx(792,469,'11',7.5);
tx(769,352,'D16',14,'middle');
ln(664,503.6,685.2,503.6);ln(664,497,664,524,2.4);
gate(685.2,497.4,711.6,536.4,'=1');tx(682,502,'12',7.5,'end');tx(682,520,'13',7.5,'end');tx(714,519,'11',7.5);tx(683,490,'D5.4',13);
ln(711.6,522.6,723.7,522.6);dt(723.7,522.6);ln(723.7,535.7,749.7,535.7);ln(723.7,548.4,749.7,548.4);pl('723.7,522.6 723.7,930');dt(723.7,548.4);
ln(776.1,535.7,790.1,535.7);
gate(749.7,522.6,776.1,561.2,'&');tx(746,533,'12',7.5,'end');tx(746,546,'13',7.5,'end');tx(779,532,'11',7.5);tx(747,576,'D4.4',13);

/* ---------- D14 ---------- */
chip(594.4,576,658,918.3,[615.1,636.3],[[650,594.4,615.1],[766.4,594.4,615.1],[689.1,636.3,658],[804.7,636.3,658]]);
oc(594.4,588.1);oc(594.4,623.3);oc(594.4,637.7);
tx(605,591,'CS',8.5,'middle','ov');tx(605,604,'A0',8.5,'middle');tx(605,617,'A1',8.5,'middle');tx(605,627,'WR',8,'middle','ov');tx(605,641,'RD',8,'middle','ov');
tx(625.7,592,'IOP',9,'middle');
pins(505,594.4,663.8,12.9,seq(1,8),['34','33','32','31','30','29','28','27']);
labs(605,667,12.9,['D0','D1','D2','D3','D4','D5','D6','D7'],9);
ln(579.4,842,594.4,842);tx(605,848,'RES',8.5,'middle');tx(591,839,'35',7.5,'end');
tx(591,586,'6',7.5,'end');tx(591,598,'9',7.5,'end');tx(591,611,'8',7.5,'end');tx(591,621,'36',7.5,'end');tx(591,635,'5',7.5,'end');
pins(658,697,592,12.8,['4','3','2','1','40','39','38','37'],seq(1,8));
labs(647,595.5,12.8,['A0','A1','A2','A3','A4','A5','A6','A7'],9);
pins(658,697,699,12.9,seq(18,25),seq(9,16));
labs(647,702.5,12.9,['B0','B1','B2','B3','B4','B5','B6','B7'],9);
pins(658,697,811,12.9,['14','15','16','17','13','12','11','10'],seq(17,24));
labs(647,814.5,12.9,['C0','C1','C2','C3','C4','C5','C6','C7'],9);
tx(675,925,'D14',14,'middle');

/* ---------- D17 ---------- */
pins(750,788.2,636,12.75,['9','10','11','12','13','14','15','16','17','18',''],['8','7','6','5','4','3','2','1','23','22','19']);
pl('750,763.5 738,763.5 738,791.2 785.9,791.2');tx(741,776,'19',7.5);
pl('762.9,931.3 762.9,804.7 785.9,804.7');dt(762.9,931.3);
ln(553.6,931.3,890.5,931.3);
pl('844.1,804.7 853,804.7 853,842');ar(853,852,'d');tx(833,865,'+ 5 в',13);
pins(844.1,880,636,12.8,['9','10','11','13','14','15','16','17'],seq(1,8));
pl('880,738 865,738 865,752.5');tx(867,750,'9',7.5);
chip(788.2,625.2,844.1,817,[806.4,824.9],[[779.9,788.2,806.4],[790.4,824.9,844.1]]);
oc(788.2,791.2);oc(788.2,804.7);
labs(797,639.5,12.75,['A0','A1','A2','A3','A4','A5','A6','A7','A8','A9','A10'],8.5);
tx(815.6,643,'R',8.5,'middle');tx(815.6,655,'O',8.5,'middle');tx(815.6,667,'M',8.5,'middle');
labs(834.5,639.5,12.8,['D0','D1','D2','D3','D4','D5','D6','D7'],9);
tx(797,795,'CS',8.5,'middle','ov');tx(797,808,'OE',8.5,'middle','ov');tx(834.5,808,'PGM',6.5,'middle');
tx(785,788,'18',7.5,'end');tx(785,802,'20',7.5,'end');tx(847,800,'21',7.5);
tx(815,836,'D17',14,'middle');

/* ---------- D20 ---------- */
pins(880,930.8,636,12.8,seq(1,8),['34','33','32','31','30','29','28','27']);
ln(880,752.5,930.8,752.5);ln(880,764.3,930.8,764.3);tx(927,750,'9',7.5,'end');tx(927,762,'8',7.5,'end');tx(869,776,'10',7.5);
ln(879.2,791.7,928.5,791.7);tx(927,788,'6',7.5,'end');
pl('890.5,931.3 890.5,829.5 928.5,829.5');tx(927,826,'5',7.5,'end');
pl('906,967.9 906,842.6 928.5,842.6');tx(927,839,'36',7.5,'end');
ln(916.4,919.6,930.8,919.6);tx(927,916,'35',7.5,'end');
pins(993.8,1035,640,12.8,['4','3','2','1','40','39','38','37'],['45','44','43','42','41','40','39','38']);
pins(993.8,1035,750,12.9,seq(18,25),['37','36','35','34','33','32','31','30']);
pl('993.8,867.4 1086.2,867.4 1086.2,952.9');tx(997,864,'14',7.5);
pl('993.8,880.2 1072.4,880.2 1072.4,981.8 1152.1,981.8');tx(997,877,'15',7.5);
pl('993.8,893 1060,893 1060,1004');tx(997,890,'16',7.5);
pl('993.8,905.8 1010.8,905.8 1010.8,995.5 1123.7,995.5 1123.7,1149');tx(997,903,'17',7.5);
pins(993.8,1035,918.6,12.8,['13','12','11','10'],['','29','28','27']);
chip(930.8,624.6,993.8,969.2,[950,972.2],[[740.3,930.8,950],[779.4,930.8,950],[804.7,930.8,950],[868.2,930.8,950],[737.7,972.2,993.8],[853,972.2,993.8]]);
oc(930.8,791.7);oc(930.8,829.5);oc(930.8,842.6);
labs(940,640,12.8,['D0','D1','D2','D3','D4','D5','D6','D7'],9);
tx(940,756,'A0',9,'middle');tx(940,768,'A1',9,'middle');tx(940,795,'CS',9,'middle','ov');tx(940,833,'RD',9,'middle','ov');tx(940,846,'WR',9,'middle','ov');tx(940,914,'RES',8.5,'middle');
tx(961,642,'IOP',9,'middle');
labs(983,643.5,12.8,['A0','A1','A2','A3','A4','A5','A6','A7'],9);
labs(983,753.5,12.9,['B0','B1','B2','B3','B4','B5','B6','B7'],9);
labs(983,871,12.8,['C0','C1','C2','C3','C4','C5','C6','C7'],9);
tx(1017,621,'D20',14,'middle');tx(1040,634,'45',7.5);
tx(868,995,'25',7.5,'middle');tx(894,995,'26',7.5,'middle');
ln(878.2,931.3,878.2,982);

/* ---------- D18 / D19 ---------- */
pl('905.3,306.4 905.3,102.6 929,102.6');ln(876,306.4,929,306.4);dt(905.3,306.4);
ln(914,111,914,123,2.4);ln(914,117,926.7,117);ln(914,313,914,325,2.4);ln(914,319.1,926.7,319.1);
pins(880,929,141.4,12.3,['16','9'],['2','3']);
pins(880,929,179.5,12.7,['17','10'],['5','6']);
pins(880,929,217.2,11.7,['18','11'],['11','10']);
pins(880,929,255,12.3,['19','12'],['14','13']);
pins(880,929,344.2,13.3,['20','13'],['2','3']);
pins(880,929,382.6,13.4,['21','14'],['5','6']);
pins(880,929,419.4,14,['22','15'],['11','10']);
[[128.7,'4','1','R21'],[167.1,'7','2','R22'],[205.5,'9','3','R23'],[244,'12','4','R24'],[331.8,'4','5','R25'],[369.9,'7','6','R26'],[408.3,'9','7','R27']].forEach(r=>{ln(984.5,r[0],1073,r[0]);rh(1023.4,r[0]);tx(988,r[0]-2,r[1],7.5);tx(1066,r[0]-2,r[2],7.5,'end');tx(1023.4,r[0]+21,r[3],13,'middle');});
ln(880,459.4,1073,459.4);rh(1023.4,459.4);tx(1023.4,450,'R20',13,'middle');tx(1066,457,'8',7.5,'end');
ln(984.2,497.9,1073,497.9);rh(1023.4,497.9);tx(1023.4,489,'R28',13,'middle');tx(1066,495,'10',7.5,'end');
ln(880,587.1,1073,587.1);rh(1023.4,587.1);tx(1005,574,'R14  33',13);tx(1066,584,'9',7.5,'end');
chip(929,91.3,984.5,281.4,[945.6,967.7],[[128.7,929,945.6],[167.1,929,945.6],[205.5,929,945.6],[244,929,945.6],[262.3,929,945.6]]);
oc(929,117);
tx(937,108,'V',9,'middle');tx(937,121,'CS',8.5,'middle','ov');tx(956.6,108,'MX',9,'middle');
labs(937,147,12.3,['A0','B0'],9);labs(937,185,12.3,['A1','B1'],9);labs(937,224,12.3,['A2','B2'],9);tx(937,257,'A3',9,'middle');tx(937,275,'B3',9,'middle');
tx(976,132,'Q0',9,'middle');tx(976,171,'Q1',9,'middle');tx(976,209,'Q2',9,'middle');tx(976,248,'Q3',9,'middle');
tx(924,100,'1',7.5,'end');tx(924,114,'15',7.5,'end');
tx(1008,101,'D18',14,'middle');
chip(929,293.1,984.5,446.8,[945.6,967.7],[[331.8,929,945.6],[369.9,929,945.6],[408.3,929,945.6]]);
oc(929,319.1);
tx(937,310,'V',9,'middle');tx(937,323,'CS',8.5,'middle','ov');tx(956.6,310,'MX',9,'middle');
labs(937,348,12.3,['A0','B0'],9);labs(937,386,12.3,['A1','B1'],9);labs(937,424,12.3,['A2','B2'],9);
tx(976,335,'Q1',9,'middle');tx(976,373,'Q2',9,'middle');tx(976,411,'Q3',9,'middle');
tx(924,304,'1',7.5,'end');tx(924,316,'15',7.5,'end');
tx(1008,302,'D19',14,'middle');
/* D10.2 D9.5 D10.3 */
ln(880,484.5,957.2,484.5);pl('944.9,497.2 957.2,497.2');pl('944.9,497.2 944.9,559.7 957.2,559.7');
ln(880,522.2,904.9,522.2);ln(931.9,522.2,944.9,522.2);dt(944.9,522.2);
ln(880,548,957.2,548);ln(984.2,561.6,1001,561.6);
gate(957.2,471.1,984.2,509.6,'&');oc(984.2,497.9);tx(954,482,'4',7.5,'end');tx(954,495,'5',7.5,'end');tx(988,495,'6',7.5);
gate(904.9,508.9,931.9,535.3,'1');oc(931.9,522.2);tx(901,520,'9',7.5,'end');tx(934,518,'8',7.5);
gate(957.2,535.3,984.2,573,'&');oc(984.2,561.6);tx(954,545,'9',7.5,'end');tx(954,558,'10',7.5,'end');tx(988,558,'8',7.5);
tx(903,501,'D9.5',13);tx(951,527,'D10.2',13);tx(912,580,'D10.3',13);tx(1032,534,'R20 - R28',13,'middle');tx(1032,550,'33',13,'middle');

/* ---------- RAM ---------- */
const tops=[104,306.7,511.6,715];
[{bus:1073,x1:1126.6,dv:1152.6,x2:1190,out:1228,mid:1215,names:['D22','D23','D24','D25'],nx:1213},{bus:1243,x1:1296.6,dv:1321.9,x2:1360.3,out:1399,mid:1384.8,names:['D26','D27','D28','D29'],nx:1388}].forEach(c=>{
 tops.forEach((t,k)=>{
  for(let i=0;i<7;i++){const y=t+11.4+12.9*i;ln(c.bus,y,c.x1,y);tx(c.bus+5,y-1.5,String(i+1),7);tx(c.x1-3,y-1.5,['5','7','6','12','11','10','13'][i],7,'end');}
  [113.6,126.3,139.5].forEach((d,j)=>{const y=t+d;ln(c.bus,y,c.x1,y);tx(c.bus+5,y-1.5,['8','10','9'][j],7);tx(c.x1-5,y-1.5,['4','15','3'][j],7,'end');});
  const xl=c.x1-27;
  if(k==0){pl(`${c.x1},${t+165} ${xl},${t+165} ${xl},${t+191} ${c.out},${t+191}`);pl(`${c.x2},${t+89} ${c.out},${t+89} ${c.out},${t+191}`);dt(c.out,t+191);}
  else{pl(`${c.x1},${t+165} ${xl},${t+165} ${xl},${t+191} ${c.mid},${t+191} ${c.mid},${t+89}`);ln(c.x2,t+89,c.out,t+89);dt(c.mid,t+89);}
  tx(c.x2+10,t+86,'14',7.5);tx(c.x1-5,t+163,'2',7.5,'end');
  chip(c.x1,t,c.x2,t+178.6,[c.dv],[[t+102,c.x1,c.dv],[t+154,c.x1,c.dv]]);
  [113.6,126.3,139.5].forEach(d=>oc(c.x1,t+d));
  labs((c.x1+c.dv)/2,t+15,12.9,['A0','A1','A2','A3','A4','A5','A6'],9.5);
  labs((c.x1+c.dv)/2,t+117,12.9,['RAS','CAS','WE'],9);
  tx((c.x1+c.dv)/2,t+169,'D1',10,'middle');tx(c.dv+4,t+15,'RAMD',8.5);
  if(c.bus==1243&&k==0)tx(1338,97,c.names[k],14,'middle');else tx(c.nx,t+12,c.names[k],14,'middle');
 });
});
tx(1220,393,'4',7.5);tx(1233,393,'3',7.5);tx(1390,393,'8',7.5);tx(1403,393,'7',7.5);
tx(1220,597,'1',7.5);tx(1390,597,'5',7.5);tx(1220,800,'2',7.5);tx(1390,800,'6',7.5);
tx(1066,856,'9',7.5,'end');tx(1236,856,'9',7.5,'end');

/* ---------- thick lines ---------- */
const T=3.2;
pl('505,942.7 505,92 880,92 880,612',T);
pl('880,598 1035,598 1035,982 697,982 697,585',T);
pl('750,754 750,612 880,612',T);
ln(276.4,700.9,505,700.9,T);ln(276.4,561.5,276.4,815.3,T);ln(276.4,942.7,505,942.7,T);
pl('1073,844 1073,90 1243,90 1243,844',T);
ln(1228,399,1228,915,T);ln(1399,399,1399,915,T);
pl('1050,600 1050,915 1399,915',T);
ln(1035,932.4,1413.6,932.4,T);
ln(1413.6,147,1413.6,1115,T);

/* ---------- right bottom analog ---------- */
ln(1086.2,952.9,1413.6,952.9);rh(1215.4,952.9);caph(1357.6,952.9);
ln(1254.2,952.9,1254.2,1005.5);capv(1254.2,972);gnd(1254.2,1005.5);dt(1254.2,952.9);
ln(1321,952.9,1321,1005.5);rv(1321,980);gnd(1321,1005.5);dt(1321,952.9);
tx(1180,948,'R32  1к',13);tx(1228,985,'C7',13);tx(1223,1000,'0,1 мк',12);tx(1291,985,'R33',13);tx(1297,1001,'1к',13);tx(1362,975,'C8',13);tx(1355,990,'0,1 мк',12);
tx(1394,949,'46',9);tx(1395,157,'46',9);
gate(1152.1,968.4,1177.5,994.5,'1');oc(1177.5,981.8);tx(1149,979,'13',7.5,'end');tx(1181,979,'12',7.5);tx(1150,1012,'D9.6',13);
pl('1179.8,981.8 1201.6,981.8 1201.6,1016.5 1413.6,1016.5');tx(1398,1013,'47',9);
[[1032.9,'+ 5 в','48'],[1058.9,'+ 12 в','49'],[1084.1,'− 5 в','50']].forEach(p=>{ln(1150,p[0],1413.6,p[0]);ar(1140,p[0],'l');tx(1140,p[0]-9,p[1],13);tx(1398,p[0]-3,p[2],9);});
ln(1174.5,1084.1,1174.5,1170.9);gnd(1174.5,1170.9);dt(1174.5,1084.1);
pl('1174.5,1096.9 1163.7,1096.9 1163.7,1135.3 1174.5,1135.3');capv(1163.7,1109.7);
pl('1174.5,1096.9 1188.7,1096.9 1188.7,1135.3 1174.5,1135.3');capv(1188.7,1118.8);dt(1174.5,1096.9);dt(1174.5,1135.3);
ln(1228.4,1058.9,1228.4,1156.8);capv(1228.4,1116);dt(1228.4,1058.9);dt(1228.4,1096.9);dt(1228.4,1135.3);
ln(1332.6,1032.9,1332.6,1156.8);capv(1332.6,1116);dt(1332.6,1032.9);dt(1332.6,1096.9);dt(1332.6,1135.3);
o+='<g stroke-dasharray="5 3">';pl('1228.4,1096.9 1279.2,1096.9');pl('1228.4,1135.3 1279.2,1135.3');pl('1332.6,1096.9 1384.8,1096.9');pl('1332.6,1135.3 1384.8,1135.3');o+='</g>';
ln(1279.2,1096.9,1279.2,1135.3);capv(1279.2,1116);ln(1384.8,1096.9,1384.8,1135.3);capv(1384.8,1116);
ln(1174.5,1156.8,1440.3,1156.8);dt(1174.5,1156.8);dt(1228.4,1156.8);dt(1332.6,1156.8);
pl('1413.6,1115 1413.6,1136 1440.3,1136');tx(1398,1132,'50',9);
tx(1146,1127,'C9',13);tx(1196,1136,'C10',13);tx(1244,1151,'C11-C16',13);tx(1346,1151,'C17 - C25',13);tx(1292,1175,'C9 - C25    0,068 мк',13,'middle');
/* D21 */
pl('904.5,968 904.5,1149');ln(904.5,1046.3,1034.5,1046.3);caph(924.6,1046.3);dt(904.5,1046.3);dt(943.1,1046.3);dt(969,1046.3);
rv(904.5,1071.3);ln(943.1,1046.3,943.1,1149);rv(943.1,1124.3);ln(969,1046.3,969,1149);capv(969,1084.1);
ln(904.5,1149,1123.7,1149);dt(904.5,1149);dt(943.1,1149);dt(969,1149);dt(1020.7,1149);gnd(904.5,1158.9);ln(904.5,1149,904.5,1158.9);
pl('1020.7,1149 1020.7,1072 1034.5,1072');
o+='<polygon points="1062,1142 1062,1156 1075,1149" fill="#fff" stroke-width="1.3"/>';ln(1075,1142,1075,1156,1.4);
o+='<polygon points="1034.5,1036.9 1034.5,1083.2 1069.8,1059.8" fill="#fff" stroke-width="1.4"/>';oc(1034.5,1046.3);
pl('1050,1047 1050,1014 1075,1014');ar(1086,1014,'r');pl('1050,1073 1050,1101 1075,1101');ar(1086,1101,'r');
ln(1069.8,1059.8,1123.7,1059.8);rh(1099.1,1059.4);dt(1123.7,1059.8);
tx(1075,1032,'+ 5 в',13);tx(1075,1119,'− 5 в',13);tx(1006,1027,'D21',13);tx(1086,1078,'R31',13);tx(1084,1094,'330',13);
tx(1029,1043,'2',7.5,'end');tx(1029,1069,'3',7.5,'end');tx(1054,1033,'7',7.5);tx(1054,1092,'4',7.5);tx(1072,1056,'6',7.5);
tx(1042,1173,'V3  КД503А',13);
tx(914,1014,'C5',13);tx(911,1030,'0,22 мк',13);tx(914,1074,'R29',13);tx(914,1091,'12 к',13);tx(908,1118,'R30',13);tx(904,1134,'2,4 к',12);tx(986,1088,'C6',13);tx(976,1104,'2200',13);

/* ---------- table ---------- */
const rows=[['Б24','Сброс'],['Б25','Сброс'],['Б8','Выход'],['А8','Вход'],['Б13','Видео'],['Б26','PA0(D14)'],['Б27','PA1'],['А27','PA2'],['А28','PA3'],['Б28','PA4'],['А26','PA5'],['А25','PA6'],['А23','PA7'],['Б16','PB0'],['Б15','PB1'],['Б14','PB2'],['А14','PB3'],['А15','PB4'],['Б17','PB5'],['Б19','PB6'],['Б20','PB7'],['А18','PC0'],['Б18','PC1'],['А17','PC2'],['А16','PC3'],['А19','PC4'],['А20','PC5'],['Б21','PC6'],['А21','PC7'],['Б9','PA0(D20)'],['Б10','PA1'],['Б11','PA2'],['Б12','PA3'],['А12','PA4'],['А11','PA5'],['А10','PA6'],['А9','PA7'],['Б5','PB0'],['Б4','PB1'],['Б3','PB2'],['А2','PB3'],['А3','PB4'],['А4','PB5'],['А5','PB6'],['Б6','PB7'],['А6','PC5'],['Б7','PC6'],['А7','PC7'],['Б2','BPC3'],['Б1','+ 5 В'],['Б31','+ 12 В'],['Б30','− 5 В'],['А1','Общ.']];
const conn=['','','','26','25'].concat(seq(1,24),['45','44','43','42','41','40','39','38','37','36','35','34','33','32','31','30','29','28','27','47','48','49']);
o+='<rect x="1440.3" y="65" width="104.7" height="1102.2" fill="#fff" stroke-width="1.4"/>';
ln(1473.5,65,1473.5,1167.2);ln(1440.3,85.6,1545,85.6);
tx(1457,79,'Конт.',8,'middle');tx(1509,79,'Цепь',10.5,'middle');
rows.forEach((r,i)=>{const y=85.6+20.41*i;if(i)ln(1440.3,y,1545,y);tx(1457,y+15,r[0],11,'middle');tx(1509,y+15,r[1],11.5,'middle');
 if(conn[i]){ln(1413.6,y+6,1440.3,y+6);tx(1427,y+19,conn[i],10.5,'middle');}});
ln(1413.6,1116,1440.3,1116);

document.getElementById('g').innerHTML=o;
</script>
</body></html>
